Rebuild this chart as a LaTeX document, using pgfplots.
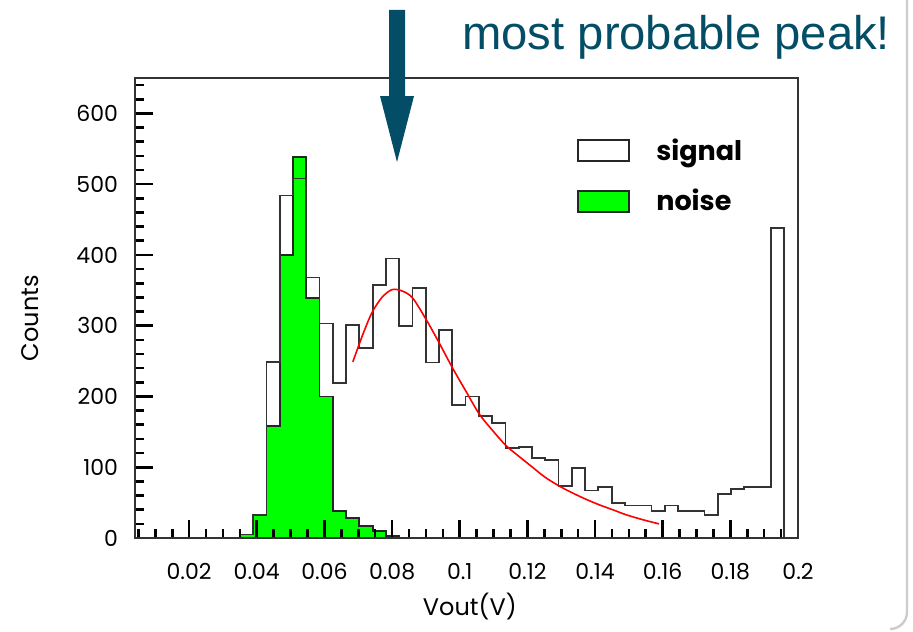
\documentclass[border=0pt]{standalone}
\usepackage{fontspec}
\setmainfont{Poppins}
\newfontfamily\arialfont{Liberation Sans}
\usepackage{pgfplots}
\pgfplotsset{compat=1.18}
\definecolor{slideteal}{HTML}{034E66}
\definecolor{rootgreen}{RGB}{0,255,0}

\pgfplotstableread{
x v
0.0350 0
0.0350 5
0.03893 33
0.04285 249
0.04678 484
0.0507 508
0.05463 368
0.05855 303
0.06248 219
0.0664 301
0.07033 268
0.07425 358
0.07818 395
0.0821 300
0.08603 353
0.08995 248
0.09388 294
0.0978 188
0.10173 200
0.10565 172
0.10958 162
0.1135 127
0.11743 129
0.12135 113
0.12528 110
0.1292 73
0.13313 99
0.13705 67
0.14098 72
0.1449 50
0.14883 46
0.15275 46
0.15668 38
0.1606 46
0.16453 38
0.16845 38
0.17238 33
0.1763 62
0.18023 69
0.18415 72
0.18808 72
0.192 438
0.19593 438
0.19593 0
}\signaltable

\pgfplotstableread{
x v
0.0350 0
0.0350 5
0.03893 33
0.04285 158
0.04678 400
0.0507 538
0.05463 339
0.05855 200
0.06248 38
0.0664 28
0.07033 17
0.07425 10
0.07818 3
0.0821 3
0.0821 0
}\noisetable

\pgfplotstableread{
x v
0.0684 249
0.0713 287
0.0740 318
0.0770 340
0.0800 351
0.0830 349
0.0861 339
0.0904 306
0.0940 275
0.0979 240
0.1020 206
0.1058 175
0.1097 152
0.1136 131
0.1176 115
0.1215 100
0.1252 86
0.1292 74
0.1332 64
0.1372 55
0.1412 47
0.1452 40
0.1491 33
0.1540 26
0.1589 20
}\fittable

\begin{document}
\begin{tikzpicture}
\useasboundingbox (0,0) rectangle (456.5pt,-315.5pt);
\begin{axis}[
  at={(67.5pt,-269pt)}, anchor=south west,
  scale only axis, width=331.5pt, height=230pt,
  xmin=0.004, xmax=0.2, ymin=0, ymax=650,
  clip=false,
  xtick={0.02,0.04,0.06,0.08,0.1,0.12,0.14,0.16,0.18,0.2},
  xticklabels={0.02,0.04,0.06,0.08,0.1,0.12,0.14,0.16,0.18,0.2},
  ytick={0,100,200,300,400,500,600},
  minor xtick={0.005,0.01,0.015,0.025,0.03,0.035,0.045,0.05,0.055,0.065,0.07,0.075,0.085,0.09,0.095,0.105,0.11,0.115,0.125,0.13,0.135,0.145,0.15,0.155,0.165,0.17,0.175,0.185,0.19,0.195},
  minor ytick={20,40,60,80,120,140,160,180,220,240,260,280,320,340,360,380,420,440,460,480,520,540,560,580,620,640},
  tick pos=left, tick align=inside,
  major tick length=9pt, minor tick length=4.5pt,
  major tick style={draw=black, line width=1.3pt},
  minor tick style={draw=black, line width=1.3pt},
  axis line style={black!80, line width=1pt},
  axis on top,
  /pgf/number format/assume math mode=true,
  ticklabel style={font=\fontsize{11}{13}\selectfont},
  xticklabel style={yshift=-9pt},
  yticklabel style={xshift=-5pt},
  xlabel={Vout(V)}, ylabel={Counts},
  label style={font=\fontsize{12}{14}\selectfont},
  xlabel style={at={(axis description cs:0.505,-0.15)}, anchor=center},
  ylabel style={at={(axis description cs:-0.158,0.478)}, anchor=center},
  legend image code/.code={\draw[#1, line width=0.9pt] (0pt,-5.25pt) rectangle (25.5pt,5.25pt);\path[draw=none,fill=none] (0pt,0pt) -- (37pt,0pt);},
  legend style={at={(0.6667,0.878)}, anchor=north west, draw=none, fill=none,
    inner sep=0pt, row sep=9pt, font=\bfseries\fontsize{13.5}{15}\selectfont},
  legend cell align=left,
]
\addlegendimage{draw=black!85, fill=white}
\addlegendentry{signal}
\addlegendimage{draw=black!85, fill=rootgreen}
\addlegendentry{noise}
\addplot[const plot mark left, fill=rootgreen, draw=black!85, line width=0.9pt, forget plot] table[x=x,y=v] {\noisetable} \closedcycle;
\addplot[const plot mark left, draw=black!80, line width=0.9pt, forget plot] table[x=x,y=v] {\signaltable};
\addplot[smooth, red, line width=0.8pt, forget plot] table[x=x,y=v] {\fittable};
\end{axis}
\begin{scope}[x=0.5pt,y=-0.5pt]
  \fill[slideteal] (389,10) -- (405,10) -- (405,96) -- (414,96) -- (397,162) -- (380,96) -- (389,96) -- cycle;
  \node[anchor=base west, inner sep=0pt, text=slideteal, font=\arialfont\fontsize{23.6}{26}\selectfont] at (462,50) {most probable peak!};
  \draw[gray!40, line width=1.2pt] (907,0) -- (907,612) to[out=-90,in=0] (890,629);
\end{scope}
\end{tikzpicture}
\end{document}
